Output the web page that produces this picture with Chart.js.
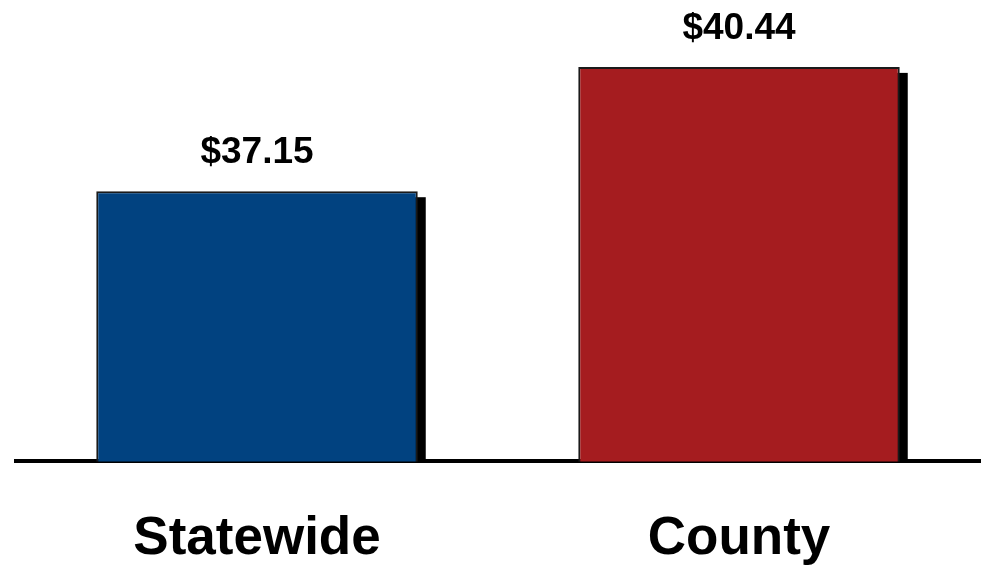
<!DOCTYPE html>
<html>
<head>
<meta charset="utf-8">
<script src="https://cdn.jsdelivr.net/npm/chart.js@4.4.1/dist/chart.umd.min.js"></script>
<style>
  html, body { margin: 0; padding: 0; background: #fff; }
  #wrap { width: 982px; height: 567px; }
</style>
</head>
<body>
<div id="wrap"><canvas id="chart" width="982" height="567"></canvas></div>
<script>
// data
const categories = ['Statewide', 'County'];
const values = [37.15, 40.44];
const barColors = ['#014280', '#A51C1F'];

// solid black shadow behind each bar, shifted down-right
const barShadow = {
  id: 'barShadow',
  beforeDatasetsDraw(chart) {
    const ctx = chart.ctx;
    const meta = chart.getDatasetMeta(0);
    const bottom = chart.chartArea.bottom;
    ctx.save();
    ctx.fillStyle = '#000';
    meta.data.forEach(bar => {
      const p = bar.getProps(['x', 'y', 'width'], true);
      ctx.fillRect(p.x - p.width / 2 + 8, p.y + 6, p.width, bottom - p.y - 6);
    });
    ctx.restore();
  }
};

// "$xx.xx" labels above bars
const valueLabels = {
  id: 'valueLabels',
  afterDraw(chart) {
    const ctx = chart.ctx;
    const meta = chart.getDatasetMeta(0);
    ctx.save();
    ctx.fillStyle = '#000';
    ctx.font = 'bold 37px "Liberation Sans", Arial, sans-serif';
    ctx.textAlign = 'center';
    ctx.textBaseline = 'alphabetic';
    meta.data.forEach((bar, i) => {
      ctx.fillText('$' + values[i].toFixed(2), bar.x, bar.y - 28);
    });
    ctx.restore();
  }
};

new Chart(document.getElementById('chart'), {
  type: 'bar',
  data: {
    labels: categories,
    datasets: [{
      data: values,
      backgroundColor: barColors,
      borderColor: '#1a1a1a',
      borderWidth: 2,
      borderSkipped: false,
      categoryPercentage: 1,
      barPercentage: 0.667
    }]
  },
  options: {
    responsive: false,
    animation: false,
    layout: { padding: { top: 0, left: 16, right: 2, bottom: -50 } },
    plugins: { legend: { display: false }, tooltip: { enabled: false } },
    scales: {
      y: {
        display: false,
        min: 30,
        max: 42.21
      },
      x: {
        grid: { display: false, drawTicks: false },
        border: { display: true, color: '#000', width: 4 },
        ticks: {
          color: '#000',
          padding: 46,
          font: { family: '"Liberation Sans", Arial, sans-serif', size: 53, weight: 'bold', lineHeight: 1.2 }
        }
      }
    }
  },
  plugins: [barShadow, valueLabels]
});
</script>
</body>
</html>
